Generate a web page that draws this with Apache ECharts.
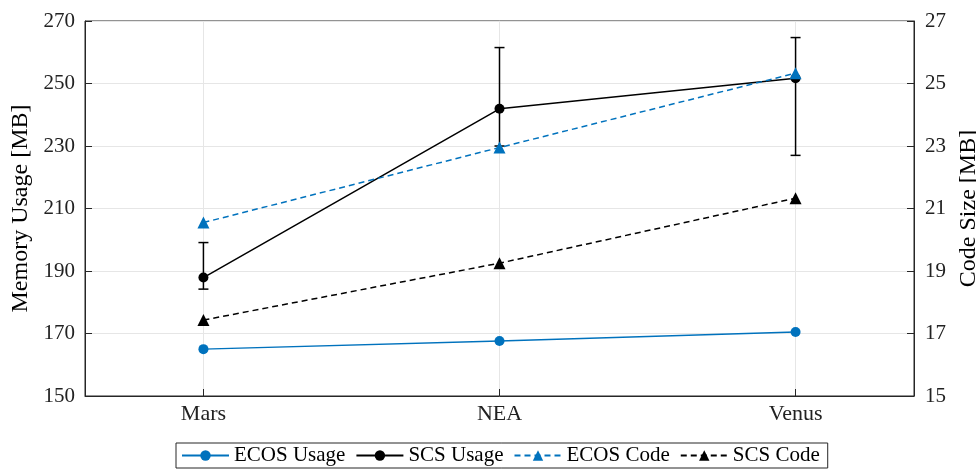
<!DOCTYPE html>
<html>
<head>
<meta charset="utf-8">
<script src="https://cdn.jsdelivr.net/npm/echarts@6/dist/echarts.min.js"></script>
<style>
  html, body { margin: 0; padding: 0; background: #fff; }
  #chart { width: 976px; height: 470px; }
</style>
</head>
<body>
<div id="chart"></div>
<script>
// Mission categories along the x axis
const categories = ['Mars', 'NEA', 'Venus'];

// Memory usage [MB] (left axis)
const ecosUsage = [165.0, 167.6, 170.5];
const scsUsage = [187.9, 241.9, 251.7];
const scsUsageLow = [184.2, 230.0, 227.0];
const scsUsageHigh = [199.1, 261.5, 264.7];

// Code size [MB] (right axis)
const ecosCode = [20.55, 22.95, 25.33];
const scsCode = [17.43, 19.25, 21.33];

// Axis ticks
const leftTicks = [150, 170, 190, 210, 230, 250, 270];
const rightTicks = [15, 17, 19, 21, 23, 25, 27];

const FONT = 'Liberation Serif';
const BLUE = '#0072BD';
const AXIS = '#262626';
const GRIDC = '#e6e6e6';

const pts = arr => arr.map((v, i) => [i + 1, v]);
const errData = scsUsage.map((v, i) => [i + 1, scsUsageLow[i], scsUsageHigh[i]]);

const chart = echarts.init(document.getElementById('chart'), null, { renderer: 'canvas' });

chart.setOption({
  animation: false,
  backgroundColor: '#fff',
  textStyle: { fontFamily: FONT, color: '#000' },
  grid: {
    left: 85, right: 62, top: 21, bottom: 74,
    outerBoundsMode: 'none', containLabel: false,
    show: true, borderColor: AXIS, borderWidth: 1, backgroundColor: 'transparent'
  },
  legend: {
    data: ['ECOS Usage', 'SCS Usage', 'ECOS Code', 'SCS Code'],
    left: 176, top: 443,
    itemWidth: 47, itemHeight: 13, itemGap: 10,
    padding: [2, 8, 2, 5],
    borderColor: AXIS, borderWidth: 1,
    textStyle: { fontFamily: FONT, fontSize: 21, color: '#000' }
  },
  xAxis: {
    type: 'value',
    min: 0.6, max: 3.4,
    axisLine: { lineStyle: { color: AXIS, width: 1 } },
    axisTick: { customValues: [1, 2, 3], inside: true, length: 7, lineStyle: { color: AXIS } },
    axisLabel: {
      customValues: [1, 2, 3],
      formatter: v => categories[Math.round(v) - 1],
      fontFamily: FONT, fontSize: 22, color: '#222', margin: 7
    },
    splitLine: { show: true, lineStyle: { color: GRIDC, width: 1 } }
  },
  yAxis: [
    {
      type: 'value', position: 'left',
      min: leftTicks[0], max: leftTicks[leftTicks.length - 1], interval: 20,
      name: 'Memory Usage [MB]', nameLocation: 'middle', nameGap: 52, nameRotate: 90,
      nameTextStyle: { fontFamily: FONT, fontSize: 24, color: '#000' },
      axisLine: { show: true, lineStyle: { color: AXIS, width: 1 } },
      axisTick: { show: true, inside: true, length: 7, lineStyle: { color: AXIS } },
      axisLabel: { fontFamily: FONT, fontSize: 21, color: '#222', margin: 10 },
      splitLine: { show: true, lineStyle: { color: GRIDC, width: 1 } }
    },
    {
      type: 'value', position: 'right',
      min: rightTicks[0], max: rightTicks[rightTicks.length - 1], interval: 2,
      name: 'Code Size [MB]', nameLocation: 'middle', nameGap: 37, nameRotate: 90,
      nameTextStyle: { fontFamily: FONT, fontSize: 24, color: '#000' },
      axisLine: { show: true, lineStyle: { color: AXIS, width: 1 } },
      axisTick: { show: true, inside: true, length: 7, lineStyle: { color: AXIS } },
      axisLabel: { fontFamily: FONT, fontSize: 21, color: '#222', margin: 11 },
      splitLine: { show: false }
    }
  ],
  series: [
    {
      name: 'ECOS Usage', type: 'line', yAxisIndex: 0, z: 3,
      data: pts(ecosUsage),
      symbol: 'circle', symbolSize: 10,
      lineStyle: { color: BLUE, width: 1.5 },
      itemStyle: { color: BLUE }
    },
    {
      name: 'SCS Usage', type: 'line', yAxisIndex: 0, z: 4,
      data: pts(scsUsage),
      symbol: 'circle', symbolSize: 10,
      lineStyle: { color: '#000', width: 1.5 },
      itemStyle: { color: '#000' }
    },
    {
      // vertical error bars with caps for the SCS usage series
      name: 'SCS Usage', type: 'custom', yAxisIndex: 0, z: 4,
      data: errData,
      encode: { x: 0, y: [1, 2] },
      renderItem: (params, api) => {
        const x = api.value(0);
        const lo = api.coord([x, api.value(1)]);
        const hi = api.coord([x, api.value(2)]);
        const half = 5;
        const style = { stroke: '#000', lineWidth: 1.5 };
        return {
          type: 'group',
          children: [
            { type: 'line', shape: { x1: lo[0], y1: lo[1], x2: hi[0], y2: hi[1] }, style },
            { type: 'line', shape: { x1: lo[0] - half, y1: lo[1], x2: lo[0] + half, y2: lo[1] }, style },
            { type: 'line', shape: { x1: hi[0] - half, y1: hi[1], x2: hi[0] + half, y2: hi[1] }, style }
          ]
        };
      }
    },
    {
      name: 'ECOS Code', type: 'line', yAxisIndex: 1, z: 5,
      data: pts(ecosCode),
      symbol: 'triangle', symbolSize: 12,
      lineStyle: { color: BLUE, width: 1.5, type: [6, 4] },
      itemStyle: { color: BLUE }
    },
    {
      name: 'SCS Code', type: 'line', yAxisIndex: 1, z: 5,
      data: pts(scsCode),
      symbol: 'triangle', symbolSize: 12,
      lineStyle: { color: '#000', width: 1.5, type: [6, 4] },
      itemStyle: { color: '#000' }
    }
  ]
});
</script>
</body>
</html>
